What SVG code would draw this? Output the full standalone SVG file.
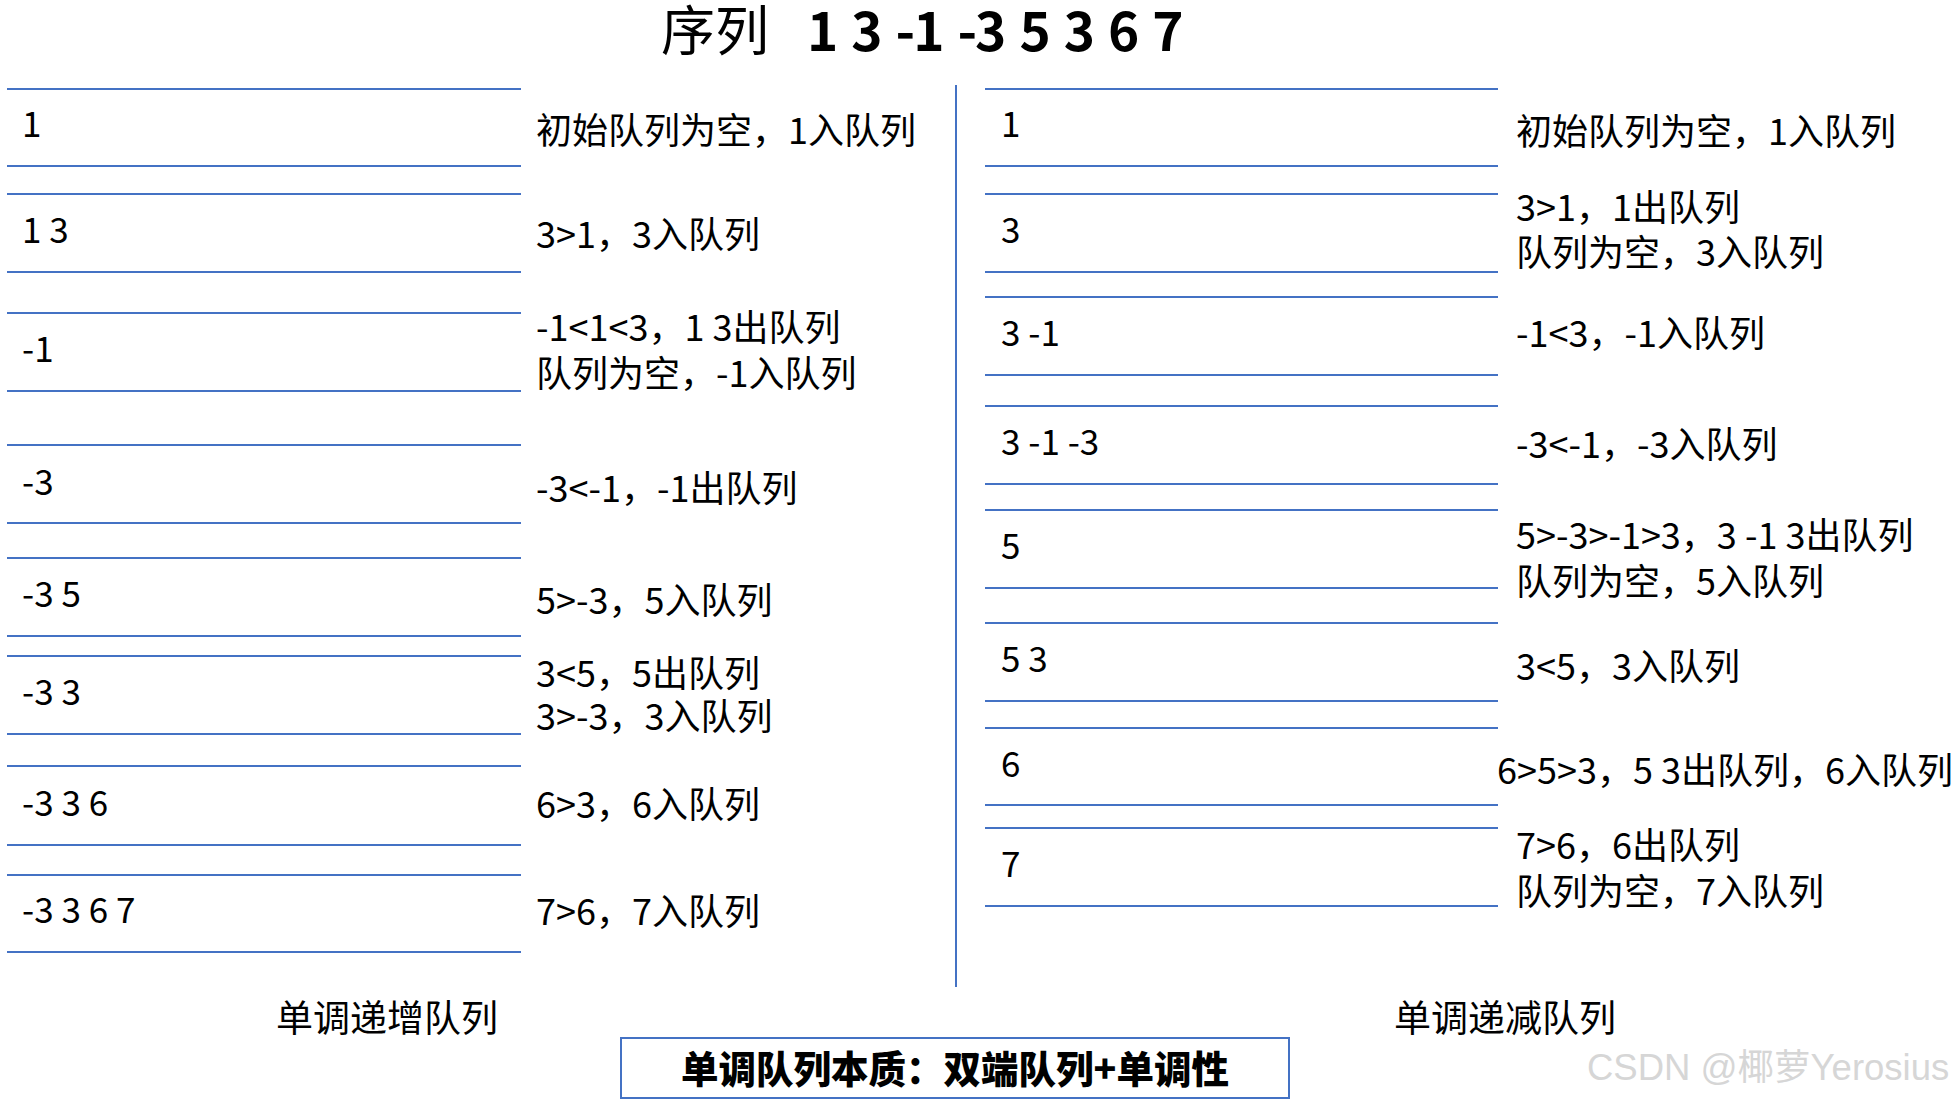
<svg xmlns="http://www.w3.org/2000/svg" width="1955" height="1102" viewBox="0 0 1955 1102">
<style>
text{font-family:"Noto Sans CJK SC","Noto Sans",sans-serif;fill:#000}
.ln{stroke:#4472C4;stroke-width:2;fill:none}
.val{font-size:35px}
.ann{font-size:36px}
.lbl{font-size:37px;text-anchor:middle}
</style>
<rect x="0" y="0" width="1955" height="1102" fill="#fff"/>
<g id="title">
<text x="661" y="51"><tspan font-size="54">序列</tspan><tspan x="807" font-size="53" font-weight="700" letter-spacing="-2" word-spacing="5">1 3 -1 -3 5 3 6 7</tspan></text>
</g>
<g id="divider"><line class="ln" x1="956" y1="85" x2="956" y2="987"/></g>
<g id="connectors"></g>
<g id="inc">
<g id="inc-1"><line class="ln" x1="7" y1="89" x2="521" y2="89"/><line class="ln" x1="7" y1="166" x2="521" y2="166"/><text class="val" x="22" y="137">1</text><text class="ann" x="536" y="144">初始队列为空，1入队列</text></g>
<g id="inc-2"><line class="ln" x1="7" y1="194" x2="521" y2="194"/><line class="ln" x1="7" y1="272" x2="521" y2="272"/><text class="val" x="22" y="243">1 3</text><text class="ann" x="536" y="248">3&gt;1，3入队列</text></g>
<g id="inc-3"><line class="ln" x1="7" y1="313" x2="521" y2="313"/><line class="ln" x1="7" y1="391" x2="521" y2="391"/><text class="val" x="22" y="362">-1</text><text class="ann" x="536" y="341">-1&lt;1&lt;3，1 3出队列</text><text class="ann" x="536" y="387">队列为空，-1入队列</text></g>
<g id="inc-4"><line class="ln" x1="7" y1="445" x2="521" y2="445"/><line class="ln" x1="7" y1="523" x2="521" y2="523"/><text class="val" x="22" y="495">-3</text><text class="ann" x="536" y="502">-3&lt;-1，-1出队列</text></g>
<g id="inc-5"><line class="ln" x1="7" y1="558" x2="521" y2="558"/><line class="ln" x1="7" y1="636" x2="521" y2="636"/><text class="val" x="22" y="607">-3 5</text><text class="ann" x="536" y="614">5&gt;-3，5入队列</text></g>
<g id="inc-6"><line class="ln" x1="7" y1="656" x2="521" y2="656"/><line class="ln" x1="7" y1="734" x2="521" y2="734"/><text class="val" x="22" y="705">-3 3</text><text class="ann" x="536" y="687">3&lt;5，5出队列</text><text class="ann" x="536" y="730">3&gt;-3，3入队列</text></g>
<g id="inc-7"><line class="ln" x1="7" y1="766" x2="521" y2="766"/><line class="ln" x1="7" y1="845" x2="521" y2="845"/><text class="val" x="22" y="816">-3 3 6</text><text class="ann" x="536" y="818">6&gt;3，6入队列</text></g>
<g id="inc-8"><line class="ln" x1="7" y1="875" x2="521" y2="875"/><line class="ln" x1="7" y1="952" x2="521" y2="952"/><text class="val" x="22" y="923">-3 3 6 7</text><text class="ann" x="536" y="925">7&gt;6，7入队列</text></g>
<text id="inc-label" class="lbl" x="387" y="1032">单调递增队列</text>
</g>
<g id="dec">
<g id="dec-1"><line class="ln" x1="985" y1="89" x2="1498" y2="89"/><line class="ln" x1="985" y1="166" x2="1498" y2="166"/><text class="val" x="1001" y="137">1</text><text class="ann" x="1516" y="145">初始队列为空，1入队列</text></g>
<g id="dec-2"><line class="ln" x1="985" y1="194" x2="1498" y2="194"/><line class="ln" x1="985" y1="272" x2="1498" y2="272"/><text class="val" x="1001" y="243">3</text><text class="ann" x="1516" y="221">3&gt;1，1出队列</text><text class="ann" x="1516" y="266">队列为空，3入队列</text></g>
<g id="dec-3"><line class="ln" x1="985" y1="297" x2="1498" y2="297"/><line class="ln" x1="985" y1="375" x2="1498" y2="375"/><text class="val" x="1001" y="346">3 -1</text><text class="ann" x="1516" y="347">-1&lt;3，-1入队列</text></g>
<g id="dec-4"><line class="ln" x1="985" y1="406" x2="1498" y2="406"/><line class="ln" x1="985" y1="484" x2="1498" y2="484"/><text class="val" x="1001" y="455">3 -1 -3</text><text class="ann" x="1516" y="458">-3&lt;-1，-3入队列</text></g>
<g id="dec-5"><line class="ln" x1="985" y1="510" x2="1498" y2="510"/><line class="ln" x1="985" y1="588" x2="1498" y2="588"/><text class="val" x="1001" y="559">5</text><text class="ann" x="1516" y="549">5&gt;-3&gt;-1&gt;3，3 -1 3出队列</text><text class="ann" x="1516" y="595">队列为空，5入队列</text></g>
<g id="dec-6"><line class="ln" x1="985" y1="623" x2="1498" y2="623"/><line class="ln" x1="985" y1="701" x2="1498" y2="701"/><text class="val" x="1001" y="672">5 3</text><text class="ann" x="1516" y="680">3&lt;5，3入队列</text></g>
<g id="dec-7"><line class="ln" x1="985" y1="728" x2="1498" y2="728"/><line class="ln" x1="985" y1="805" x2="1498" y2="805"/><text class="val" x="1001" y="777">6</text><text class="ann" x="1497" y="784">6&gt;5&gt;3，5 3出队列，6入队列</text></g>
<g id="dec-8"><line class="ln" x1="985" y1="828" x2="1498" y2="828"/><line class="ln" x1="985" y1="906" x2="1498" y2="906"/><text class="val" x="1001" y="877">7</text><text class="ann" x="1516" y="859">7&gt;6，6出队列</text><text class="ann" x="1516" y="905">队列为空，7入队列</text></g>
<text id="dec-label" class="lbl" x="1505" y="1032">单调递减队列</text>
</g>
<g id="summary">
<rect x="621" y="1038" width="668" height="60" fill="#fff" stroke="#4472C4" stroke-width="2"/>
<text x="955" y="1083" font-size="37.5" font-weight="900" text-anchor="middle">单调队列本质：双端队列+单调性</text>
</g>
<text id="watermark" x="1587" y="1080" font-size="36.5" style="font-family:'Liberation Sans','Noto Sans CJK SC',sans-serif;fill:#d6d6d6">CSDN @椰萝Yerosius</text>
</svg>
